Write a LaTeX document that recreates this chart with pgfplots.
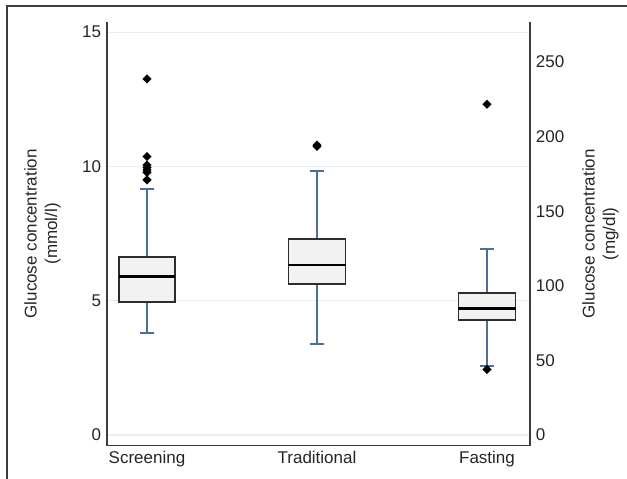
\documentclass[border=0pt]{standalone}
\usepackage{pgfplots}
\pgfplotsset{compat=1.18}
\usepackage{fontspec}
\setmainfont{Liberation Sans}
\definecolor{whisk}{RGB}{72,112,152}
\definecolor{boxfill}{RGB}{242,242,242}
\definecolor{boxedge}{RGB}{45,45,45}
\definecolor{gridc}{RGB}{232,240,244}
\definecolor{spine}{RGB}{60,60,60}
\definecolor{txt}{RGB}{40,36,36}
\begin{document}
\fontsize{17}{20.4}\selectfont
\begin{tikzpicture}
\useasboundingbox (0,0) rectangle (627pt,479pt);
\draw[spine, line width=1.4pt] (7pt,0pt) -- (7pt,473pt) -- (627pt,473pt);
\begin{axis}[
  at={(107pt,33.3pt)}, anchor=south west,
  scale only axis, width=423pt, height=423.7pt,
  xmin=-0.2353, xmax=2.2529,
  xtick={0,1,2}, xticklabels={Screening,Traditional,Fasting},
  major tick length=0pt,
  axis line style={-, draw=spine, line width=1.4pt},
  tick label style={text=txt},
  /pgf/number format/assume math mode=true,
  axis x line*=bottom, axis y line*=left,
  ymin=-0.4, ymax=15.38,
  ytick={0,5,10,15},
  ymajorgrids, grid style={draw=gridc, line width=1.3pt},
  ylabel={Glucose concentration\\(mmol/l)},
  every axis y label/.style={at={(axis description cs:-0.1525,0.5)}, rotate=90, anchor=center, align=center, text=txt},
  whisker/.style={draw=whisk, line width=2pt, no marks},
  box/.style={draw=boxedge, fill=boxfill, line width=1.8pt, no marks},
  med/.style={draw=black, line width=2.8pt, no marks},
  outl/.style={only marks, mark=square*, mark size=3.1pt, mark options={rotate=45, fill=black, draw=black, line width=0.1pt}},
]
% Screening
\addplot[whisker] coordinates {(0,6.62) (0,9.16)};
\addplot[whisker] coordinates {(-0.041,9.16) (0.041,9.16)};
\addplot[whisker] coordinates {(0,4.94) (0,3.81)};
\addplot[whisker] coordinates {(-0.041,3.81) (0.041,3.81)};
\addplot[box] coordinates {(-0.165,4.94) (0.165,4.94) (0.165,6.62) (-0.165,6.62)} -- cycle;
\addplot[med] coordinates {(-0.165,5.91) (0.165,5.91)};
\addplot[outl] coordinates {(0,9.50) (0,9.78) (0,9.87) (0,9.96) (0,10.05) (0,10.37) (0,13.26)};
% Traditional
\addplot[whisker] coordinates {(1,7.29) (1,9.83)};
\addplot[whisker] coordinates {(0.959,9.83) (1.041,9.83)};
\addplot[whisker] coordinates {(1,5.62) (1,3.39)};
\addplot[whisker] coordinates {(0.959,3.39) (1.041,3.39)};
\addplot[box] coordinates {(0.832,5.62) (1.168,5.62) (1.168,7.29) (0.832,7.29)} -- cycle;
\addplot[med] coordinates {(0.832,6.33) (1.168,6.33)};
\addplot[outl] coordinates {(1,10.75) (1,10.80)};
% Fasting
\addplot[whisker] coordinates {(2,5.30) (2,6.94)};
\addplot[whisker] coordinates {(1.959,6.94) (2.041,6.94)};
\addplot[whisker] coordinates {(2,4.28) (2,2.57)};
\addplot[whisker] coordinates {(1.959,2.57) (2.041,2.57)};
\addplot[box] coordinates {(1.832,4.28) (2.168,4.28) (2.168,5.30) (1.832,5.30)} -- cycle;
\addplot[med] coordinates {(1.832,4.70) (2.168,4.70)};
\addplot[outl] coordinates {(2,2.44) (2,12.32)};
\end{axis}
\begin{axis}[
  at={(107pt,33.3pt)}, anchor=south west,
  scale only axis, width=423pt, height=423.7pt,
  xmin=-0.2353, xmax=2.2529,
  major tick length=0pt,
  axis line style={-, draw=spine, line width=1.4pt},
  tick label style={text=txt},
  /pgf/number format/assume math mode=true,
  hide x axis, axis y line*=right,
  ymin=-7.2, ymax=276.84,
  ytick={0,50,100,150,200,250},
  ylabel={Glucose concentration\\(mg/dl)},
  every axis y label/.style={at={(axis description cs:1.1667,0.5)}, rotate=90, anchor=center, align=center, text=txt},
]
\end{axis}
\end{tikzpicture}
\end{document}
